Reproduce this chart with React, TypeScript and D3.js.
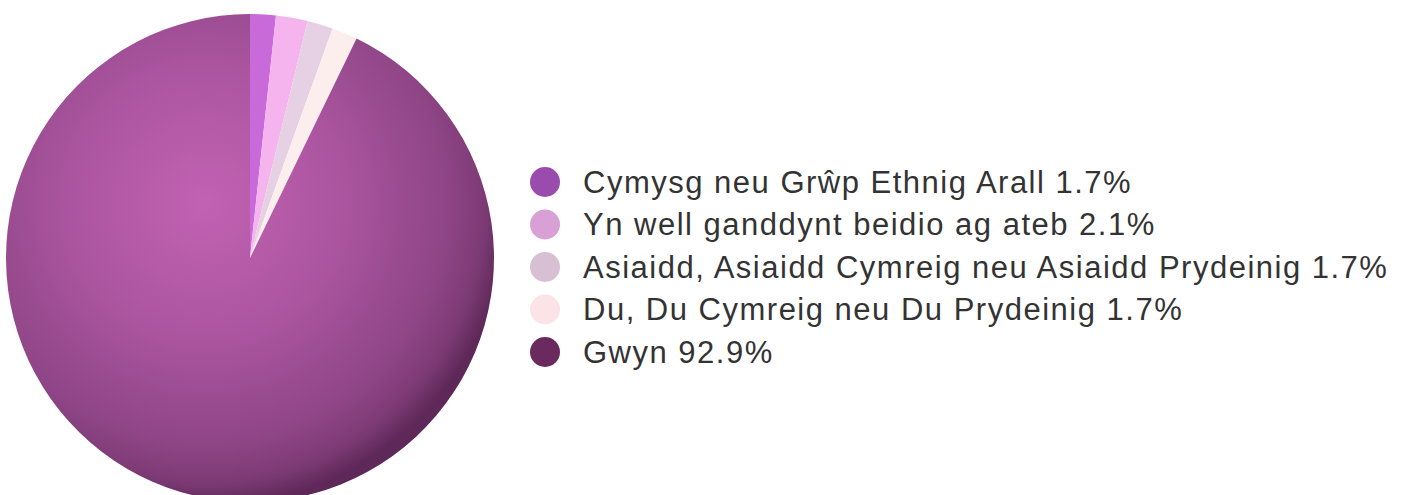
import React from "react";
import * as d3 from "d3";

const categories = [
  "Cymysg neu Grŵp Ethnig Arall",
  "Yn well ganddynt beidio ag ateb",
  "Asiaidd, Asiaidd Cymreig neu Asiaidd Prydeinig",
  "Du, Du Cymreig neu Du Prydeinig",
  "Gwyn",
];
const values = [1.7, 2.1, 1.7, 1.7, 92.9];
const valueLabels = ["1.7%", "2.1%", "1.7%", "1.7%", "92.9%"];
const sliceColors = ["#c86ad9", "#f6b4ef", "#e6d0e3", "#fdeeee", "url(#gwynGrad)"];
const legendColors = ["#9a4bae", "#d9a0d6", "#d7c0d3", "#fbe3e7", "#6a2a5f"];

export default function App() {
  const W = 1408, H = 495;
  const cx = 250, cy = 258, r = 244;
  const pie = d3.pie<number>().sort(null).startAngle(0).endAngle(2 * Math.PI)(values);
  const arc = d3.arc<d3.PieArcDatum<number>>().innerRadius(0).outerRadius(r);
  const legendY = d3.scalePoint<number>().domain(d3.range(categories.length)).range([182, 352]);
  return (
    <svg width={W} height={H} style={{ position: "absolute", left: 0, top: 0, background: "#fff" }}>
      <defs>
        <radialGradient id="gwynGrad" gradientUnits="userSpaceOnUse" cx={-45} cy={-55} r={r + 60} fx={-45} fy={-55}>
          <stop offset="0" stopColor="#c262b2" />
          <stop offset="0.45" stopColor="#ab559f" />
          <stop offset="0.8" stopColor="#8e4586" />
          <stop offset="0.92" stopColor="#7c3a74" />
          <stop offset="1" stopColor="#5e2858" />
        </radialGradient>
      </defs>
      <g transform={`translate(${cx},${cy})`}>
        {pie.map((d, i) => (
          <path key={i} d={arc(d) || ""} fill={sliceColors[i]} />
        ))}
      </g>
      <g fontFamily="'Liberation Sans', Arial, sans-serif" fontSize={31} fill="#333" letterSpacing={1.5}>
        {categories.map((c, i) => (
          <g key={i} transform={`translate(0,${legendY(i)})`}>
            <circle cx={545} cy={0} r={15} fill={legendColors[i]} />
            <text x={583} y={0} dy="0.35em">{`${c} ${valueLabels[i]}`}</text>
          </g>
        ))}
      </g>
    </svg>
  );
}
